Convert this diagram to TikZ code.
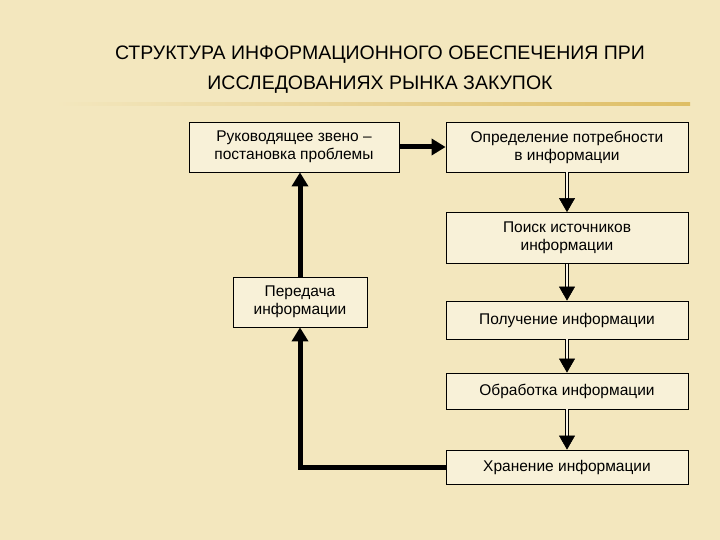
\documentclass[tikz,border=0pt]{standalone}
\usepackage{fontspec}
\setmainfont{Liberation Sans}
\usetikzlibrary{arrows.meta,calc}
\definecolor{bgbeige}{RGB}{243,231,190}
\definecolor{linegold}{RGB}{222,190,100}
\begin{document}
\begin{tikzpicture}
  [x=1pt,y=-1pt,
    box/.style={%
      rectangle, draw, thick, fill=bgbeige!60, inner sep=0pt,
      align=center, font=\fontsize{15.5}{18}\selectfont
    },
    thickarrow/.style={line width=5pt, -{Triangle[width=16pt,length=14pt]}},
    shaft/.style={draw, double=bgbeige!40, double distance=2.5pt, line width=0.9pt},
    tip/.style={line width=0.5pt, -{Triangle[width=16pt,length=14pt]}},
  ]
  \fill[bgbeige] (0,0) rectangle (720,540);
  \useasboundingbox (0,0) rectangle (720,540);
  \shade[left color=bgbeige, right color=linegold, middle color=linegold!70]
    (55,103) rectangle (690,106);

  \node[font=\fontsize{19.5}{30}\selectfont, align=center] (title) at (380,70)
    {СТРУКТУРА ИНФОРМАЦИОННОГО ОБЕСПЕЧЕНИЯ ПРИ\\
     ИССЛЕДОВАНИЯХ РЫНКА ЗАКУПОК};

  \node[box, minimum width=210, minimum height=50] (lead) at (294,147)
    {Руководящее звено –\\постановка проблемы};
  \node[box, minimum width=242, minimum height=50] (need) at (567,147)
    {Определение потребности\\в информации};
  \node[box, minimum width=242, minimum height=51] (search) at (567,238)
    {Поиск источников\\информации};
  \node[box, minimum width=134, minimum height=50] (trans) at (300,302)
    {Передача\\информации};
  \node[box, minimum width=242, minimum height=38] (get) at (567,320)
    {Получение информации};
  \node[box, minimum width=242, minimum height=36] (proc) at (567,391)
    {Обработка информации};
  \node[box, minimum width=242, minimum height=34] (store) at (567,467)
    {Хранение информации};

  \draw[thickarrow] (lead) -- (need);
  \draw[thickarrow] (trans.north) -- (trans.north |- lead.south);
  \draw[thickarrow] (store.west) -| (trans.south);

  \foreach \a/\b in {need/search, search/get, get/proc, proc/store}{
    \draw[shaft] (\a.south) -- ($(\b.north)+(0,-13)$);
    \draw[tip] ($(\b.north)+(0,-13)$) -- (\b.north);
  }
\end{tikzpicture}
\end{document}
